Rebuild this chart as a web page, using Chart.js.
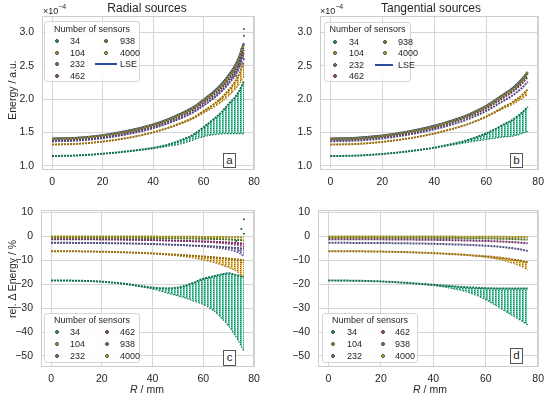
<!DOCTYPE html>
<html><head><meta charset="utf-8">
<script src="https://cdn.jsdelivr.net/npm/chart.js@4.4.1/dist/chart.umd.min.js"></script>
<style>
body{margin:0;background:#fff;width:550px;height:399px;overflow:hidden;font-family:"Liberation Sans",Arial,sans-serif;color:#262626;position:relative}
canvas{position:absolute;left:0;top:0}
.t{position:absolute;white-space:nowrap;line-height:1}
.lg{position:absolute;border:1px solid #d6d6d6;border-radius:3px;background:rgba(255,255,255,0.88);box-sizing:border-box}
.dot{position:absolute;width:4px;height:4px;border-radius:50%;box-sizing:border-box;border:0.6px solid #444;transform:translate(-50%,-50%)}
.pl{position:absolute;border:1px solid #555;background:#fff;font-size:11.5px;text-align:center;box-sizing:border-box;line-height:13px}
</style>
</head><body>
<canvas id="ca" width="550" height="399"></canvas>
<canvas id="cb" width="550" height="399"></canvas>
<canvas id="cc" width="550" height="399"></canvas>
<canvas id="cd" width="550" height="399"></canvas>
<div id="txt"></div>
<script>
// ---------------- data ----------------
const R = [0,10,20,30,40,46,52,56,60,64,67,70,72,74,76];
const sensorLabels = ['34','104','232','462','938','4000'];
const xTicks = [0,20,40,60,80];
const energyTicks = [1.0,1.5,2.0,2.5,3.0];
const relTicks = [-50,-40,-30,-20,-10,0,10];

// Panel a: radial sources, energy (x1e-4 a.u.)
const lseRadial = [1.410,1.422,1.460,1.525,1.620,1.700,1.800,1.880,1.990,2.110,2.220,2.360,2.470,2.620,2.840];
const eRad4000 = [1.408,1.420,1.458,1.522,1.617,1.696,1.795,1.874,1.984,2.102,2.211,2.350,2.459,2.607,2.824];
const eRad938 = [1.402,1.413,1.451,1.514,1.607,1.685,1.783,1.861,1.969,2.085,2.192,2.327,2.433,2.578,2.789];
const eRad462 = [1.392,1.403,1.440,1.502,1.593,1.669,1.764,1.839,1.944,2.057,2.160,2.292,2.393,2.534,2.738];
const eRad232Hi = [1.371,1.382,1.418,1.478,1.567,1.641,1.733,1.806,1.908,2.019,2.120,2.249,2.350,2.489,2.692];
const eRad232Lo = [1.371,1.382,1.418,1.478,1.567,1.640,1.731,1.803,1.902,2.009,2.105,2.225,2.317,2.437,2.599];
const eRad104Hi = [1.321,1.332,1.365,1.421,1.503,1.572,1.658,1.726,1.821,1.924,2.018,2.138,2.233,2.363,2.556];
const eRad104Lo = [1.321,1.332,1.365,1.421,1.502,1.567,1.647,1.709,1.793,1.880,1.956,2.051,2.124,2.219,2.343];
const eRad34Hi = [1.149,1.158,1.183,1.220,1.272,1.320,1.400,1.470,1.580,1.700,1.800,1.930,2.010,2.110,2.270];
const eRad34Lo = [1.149,1.158,1.183,1.217,1.262,1.295,1.340,1.390,1.440,1.470,1.480,1.485,1.485,1.485,1.480];
const outRa = [73,74,75,76,76,76];
const eRad34Out = [2.35,2.50,2.75,2.60,2.95,3.05];

// Panel b: tangential sources, energy (x1e-4 a.u.)
const lseTan = [1.410,1.420,1.455,1.515,1.600,1.670,1.750,1.820,1.900,2.000,2.080,2.160,2.230,2.310,2.410];
const eTan4000 = [1.408,1.418,1.453,1.513,1.597,1.667,1.746,1.816,1.895,1.994,2.074,2.153,2.222,2.301,2.400];
const eTan938 = [1.402,1.411,1.446,1.505,1.588,1.657,1.735,1.804,1.882,1.979,2.057,2.134,2.201,2.279,2.375];
const eTan462 = [1.392,1.401,1.435,1.493,1.575,1.642,1.719,1.785,1.862,1.957,2.032,2.106,2.171,2.245,2.338];
const eTan232 = [1.371,1.380,1.413,1.470,1.549,1.613,1.687,1.751,1.824,1.914,1.984,2.052,2.112,2.178,2.261];
const eTan104Hi = [1.321,1.330,1.361,1.413,1.486,1.546,1.614,1.673,1.740,1.824,1.889,1.950,2.007,2.070,2.147];
const eTan104Lo = [1.321,1.330,1.361,1.413,1.486,1.546,1.612,1.669,1.733,1.810,1.868,1.918,1.965,2.014,2.073];
const eTan34Hi = [1.149,1.156,1.180,1.220,1.275,1.323,1.377,1.429,1.488,1.564,1.627,1.689,1.744,1.806,1.885];
const eTan34Lo = [1.149,1.156,1.180,1.218,1.270,1.309,1.348,1.374,1.397,1.420,1.435,1.447,1.465,1.488,1.518];

// Panel c: radial sources, rel. delta energy (%)
const dRad4000 = [-0.15,-0.15,-0.15,-0.17,-0.2,-0.23,-0.27,-0.3,-0.32,-0.36,-0.4,-0.43,-0.46,-0.5,-0.55];
const dRad938 = [-0.6,-0.61,-0.64,-0.69,-0.78,-0.86,-0.95,-1.02,-1.08,-1.18,-1.27,-1.38,-1.48,-1.6,-1.8];
const dRad462Hi = [-1.3,-1.31,-1.37,-1.48,-1.66,-1.83,-2.0,-2.1,-2.2,-2.35,-2.5,-2.65,-2.8,-2.95,-3.1];
const dRad462Lo = [-1.3,-1.31,-1.37,-1.48,-1.66,-1.83,-2.05,-2.2,-2.4,-2.7,-3.0,-3.3,-3.6,-3.9,-4.4];
const dRad232Hi = [-2.8,-2.82,-2.9,-3.05,-3.3,-3.5,-3.75,-3.95,-4.1,-4.3,-4.5,-4.7,-4.85,-5.0,-5.2];
const dRad232Lo = [-2.8,-2.82,-2.9,-3.05,-3.3,-3.55,-3.85,-4.1,-4.4,-4.8,-5.2,-5.7,-6.2,-7.0,-8.5];
const dRad104Hi = [-6.3,-6.35,-6.5,-6.8,-7.2,-7.55,-7.9,-8.2,-8.5,-8.8,-9.1,-9.4,-9.6,-9.8,-10.0];
const dRad104Lo = [-6.3,-6.35,-6.5,-6.8,-7.3,-7.8,-8.5,-9.1,-9.9,-10.9,-11.9,-13.1,-14.0,-15.3,-17.5];
const dRad34Hi = [-18.5,-18.6,-19.0,-20.0,-21.5,-21.8,-21.0,-19.5,-17.8,-16.8,-16.0,-15.5,-16.0,-16.5,-17.0];
const dRad34Lo = [-18.5,-18.6,-19.0,-20.2,-22.0,-23.8,-25.5,-27.0,-28.5,-31.0,-34.0,-37.5,-40.5,-44.0,-48.0];
const outRc = [73,74,75,75,76,76];
const dRad34Out = [-2,-6,3,-11,1,7];

// Panel d: tangential sources, rel. delta energy (%)
const dTan4000 = [-0.15,-0.15,-0.15,-0.16,-0.18,-0.2,-0.22,-0.24,-0.26,-0.28,-0.3,-0.33,-0.35,-0.37,-0.4];
const dTan938 = [-0.6,-0.61,-0.63,-0.67,-0.72,-0.78,-0.84,-0.9,-0.96,-1.03,-1.1,-1.2,-1.28,-1.36,-1.45];
const dTan462 = [-1.3,-1.31,-1.35,-1.43,-1.55,-1.66,-1.8,-1.9,-2.02,-2.17,-2.3,-2.5,-2.65,-2.8,-3.0];
const dTan232 = [-2.8,-2.82,-2.88,-3.0,-3.2,-3.4,-3.6,-3.8,-4.0,-4.3,-4.6,-5.0,-5.3,-5.7,-6.2];
const dTan104Hi = [-6.3,-6.33,-6.45,-6.7,-7.1,-7.4,-7.8,-8.1,-8.4,-8.8,-9.2,-9.7,-10.0,-10.4,-10.9];
const dTan104Lo = [-6.3,-6.33,-6.45,-6.7,-7.1,-7.45,-7.9,-8.3,-8.8,-9.5,-10.2,-11.2,-11.9,-12.8,-14.0];
const dTan34Hi = [-18.5,-18.6,-18.9,-19.5,-20.3,-20.8,-21.3,-21.5,-21.7,-21.8,-21.8,-21.8,-21.8,-21.8,-21.8];
const dTan34Lo = [-18.5,-18.6,-18.9,-19.6,-20.6,-21.6,-23.0,-24.5,-26.5,-29.0,-31.0,-33.0,-34.3,-35.6,-37.0];

// ---------------- styling ----------------
const COL = {'34':'#1b9e77','104':'#d99a12','232':'#7570b3','462':'#a8418f','938':'#6b9a23','4000':'#dcc30e'};
const FILL = {'34':'#2cc08f','104':'#e3a51f','232':'#8a86c6','462':'#bd5aa3','938':'#7daa30','4000':'#e3cc1c'};
const LSE_COL = '#2b4aa3';
const ORDER = {'34':20,'104':18,'232':16,'462':14,'938':12,'4000':10};
Chart.defaults.font.family = '"Liberation Sans", Arial, sans-serif';

function shade(hex, f){
  const n = parseInt(hex.slice(1),16);
  const r=(n>>16)&255,g=(n>>8)&255,b=n&255;
  return 'rgb('+Math.round(r*(1-f))+','+Math.round(g*(1-f))+','+Math.round(b*(1-f))+')';
}
function stripes(ctx, hex){
  const c=document.createElement('canvas'); c.width=3; c.height=2;
  const g=c.getContext('2d');
  g.globalAlpha=0.75; g.fillStyle=hex; g.fillRect(0,0,2,2);
  g.globalAlpha=0.75; g.fillStyle=shade(hex,0.5); g.fillRect(0,0,1,1);
  return ctx.createPattern(c,'repeat');
}
function pts(vals, xs){ return vals.map((v,i)=>({x:xs[i], y:v})); }

function seriesDS(ctx, key, hi, lo){
  const dark = shade(COL[key], 0.3);
  const base = {showLine:true, pointRadius:0, cubicInterpolationMode:'monotone', borderColor:dark, order:ORDER[key]};
  if(!lo){
    return [Object.assign({}, base, {data:pts(hi,R), borderWidth:2, borderDash:[2,1], fill:false})];
  }
  return [
    Object.assign({}, base, {data:pts(hi,R), borderWidth:2, borderDash:[2,1], fill:'+1', backgroundColor:stripes(ctx, FILL[key])}),
    Object.assign({}, base, {data:pts(lo,R), borderWidth:1.2, borderDash:[1.5,1.5], fill:false})
  ];
}
function outDS(xs, vals){
  return {data:pts(vals,xs), showLine:false, pointRadius:1, pointBorderWidth:0, pointBackgroundColor:shade(COL['34'],0.4), order:21};
}
function lseDS(vals){
  return {data:pts(vals,R), showLine:true, pointRadius:0, borderColor:LSE_COL, borderWidth:2.2, cubicInterpolationMode:'monotone', fill:false, order:11};
}

const framePlugin = {id:'frame', beforeDatasetsDraw(c){
  const a=c.chartArea, g=c.ctx; g.save(); g.strokeStyle='#cdcdcd'; g.lineWidth=1;
  g.strokeRect(Math.round(a.left)+0.5, Math.round(a.top)+0.5, Math.round(a.width)-1, Math.round(a.height)-1); g.restore();
}};

function fmtRel(v){ return v<0 ? '\u2212'+Math.abs(v) : String(v); }
function fmtE(v){ return v.toFixed(1); }

function makeChart(id, area, yMin, yMax, yTicks, yFmt, datasets){
  const YW=40, XH=24;
  new Chart(document.getElementById(id), {
    type:'scatter',
    data:{datasets},
    options:{
      responsive:false, animation:false, devicePixelRatio:1,
      layout:{padding:{left:area.l-YW, right:550-area.r, top:area.t, bottom:399-area.b-XH}},
      plugins:{legend:{display:false}, tooltip:{enabled:false}},
      scales:{
        x:{type:'linear', min:-4, max:80,
           afterBuildTicks:s=>{s.ticks=xTicks.map(v=>({value:v}));},
           afterFit:s=>{s.height=XH;},
           ticks:{font:{size:10.5}, color:'#262626', padding:6, maxRotation:0, autoSkip:false},
           grid:{color:'#d6d6d6', drawTicks:false}, border:{display:false}},
        y:{type:'linear', min:yMin, max:yMax,
           afterBuildTicks:s=>{s.ticks=yTicks.map(v=>({value:v}));},
           afterFit:s=>{s.width=YW;},
           ticks:{font:{size:10.5}, color:'#262626', padding:8, autoSkip:false, callback:v=>yFmt(v)},
           grid:{color:'#d6d6d6', drawTicks:false}, border:{display:false}}
      }
    },
    plugins:[framePlugin]
  });
}

function energyDatasets(ctx, s){
  let ds=[];
  ds=ds.concat(seriesDS(ctx,'34',s.h34,s.l34));
  if(s.out) ds.push(outDS(s.outX,s.out));
  ds=ds.concat(seriesDS(ctx,'104',s.h104,s.l104));
  ds=ds.concat(seriesDS(ctx,'232',s.h232,s.l232));
  ds=ds.concat(seriesDS(ctx,'462',s.h462,s.l462));
  ds=ds.concat(seriesDS(ctx,'938',s.h938));
  if(s.lse) ds.push(lseDS(s.lse));
  ds=ds.concat(seriesDS(ctx,'4000',s.h4000));
  return ds;
}

const ctxA=document.getElementById('ca').getContext('2d');
const ctxB=document.getElementById('cb').getContext('2d');
const ctxC=document.getElementById('cc').getContext('2d');
const ctxD=document.getElementById('cd').getContext('2d');

makeChart('ca',{l:42,r:254,t:16,b:170},0.94,3.246,energyTicks,fmtE,
  energyDatasets(ctxA,{h34:eRad34Hi,l34:eRad34Lo,out:eRad34Out,outX:outRa,h104:eRad104Hi,l104:eRad104Lo,h232:eRad232Hi,l232:eRad232Lo,h462:eRad462,h938:eRad938,h4000:eRad4000,lse:lseRadial}));
makeChart('cb',{l:320,r:541,t:16,b:170},0.94,3.246,energyTicks,fmtE,
  energyDatasets(ctxB,{h34:eTan34Hi,l34:eTan34Lo,h104:eTan104Hi,l104:eTan104Lo,h232:eTan232,h462:eTan462,h938:eTan938,h4000:eTan4000,lse:lseTan}));
makeChart('cc',{l:41,r:254,t:210,b:367},-54.6,10.9,relTicks,fmtRel,
  energyDatasets(ctxC,{h34:dRad34Hi,l34:dRad34Lo,out:dRad34Out,outX:outRc,h104:dRad104Hi,l104:dRad104Lo,h232:dRad232Hi,l232:dRad232Lo,h462:dRad462Hi,l462:dRad462Lo,h938:dRad938,h4000:dRad4000}));
makeChart('cd',{l:318,r:541,t:210,b:367},-54.6,10.9,relTicks,fmtRel,
  energyDatasets(ctxD,{h34:dTan34Hi,l34:dTan34Lo,h104:dTan104Hi,l104:dTan104Lo,h232:dTan232,h462:dTan462,h938:dTan938,h4000:dTan4000}));

// ---------------- text / legends ----------------
const T=document.getElementById('txt');
function add(html, css, cls){ const d=document.createElement('div'); d.className=cls||'t'; d.innerHTML=html; d.style.cssText=css; T.appendChild(d); return d; }
add('Radial sources','left:147px;top:2px;font-size:12px;transform:translateX(-50%)');
add('Tangential sources','left:431px;top:2px;font-size:12px;transform:translateX(-50%)');
add('×10<sup style="font-size:7px;position:relative;top:-1px">−4</sup>','left:43px;top:4px;font-size:9px');
add('×10<sup style="font-size:7px;position:relative;top:-1px">−4</sup>','left:320px;top:4px;font-size:9px');
add('Energy / a.u.','left:12px;top:90px;font-size:10.5px;transform:translate(-50%,-50%) rotate(-90deg)');
add('rel. Δ Energy / %','left:12px;top:279px;font-size:10.5px;transform:translate(-50%,-50%) rotate(-90deg)');
add('<i>R</i> / mm','left:147px;top:389px;font-size:10.5px;transform:translate(-50%,-50%)');
add('<i>R</i> / mm','left:430px;top:389px;font-size:10.5px;transform:translate(-50%,-50%)');
add('a','left:223px;top:153px;width:13px;height:15px','pl');
add('b','left:510px;top:153px;width:13px;height:15px','pl');
add('c','left:223px;top:350px;width:13px;height:16px','pl');
add('d','left:510px;top:348px;width:13px;height:16px','pl');

function legend(box, titleY, rows, mx, tx, items, lse){
  add('','left:'+box[0]+'px;top:'+box[1]+'px;width:'+box[2]+'px;height:'+box[3]+'px','lg');
  add('Number of sensors','left:'+(box[0]+box[2]/2)+'px;top:'+titleY+'px;font-size:9px;transform:translate(-50%,-50%)');
  items.forEach((lab,i)=>{
    const col = Math.floor(i/rows.length), row = i%rows.length;
    add('','left:'+mx[col]+'px;top:'+rows[row]+'px;background:'+COL[lab],'dot');
    add(lab,'left:'+tx[col]+'px;top:'+rows[row]+'px;font-size:9px;transform:translateY(-50%)');
  });
  if(lse){
    add('','left:'+lse[0]+'px;top:'+(lse[2]-1)+'px;width:'+(lse[1]-lse[0])+'px;height:2px;background:'+LSE_COL);
    add('LSE','left:'+tx[1]+'px;top:'+lse[2]+'px;font-size:9px;transform:translateY(-50%)');
  }
}
legend([44,21,96,61],28.5,[41,52.5,64,75.8],[57,106],[70,120],sensorLabels,[95,117,64]);
legend([324,22,87,60],28.5,[41.7,52.7,64.5,76.3],[335,385],[349,398],sensorLabels,[375,393,64.5]);
legend([44,313,96,50],319.5,[331.7,343.5,355.8],[57,107],[70,120],sensorLabels);
legend([322,313,96,50],319.5,[331.7,343.5,355.8],[333,383],[347,395],sensorLabels);
</script>
</body></html>
